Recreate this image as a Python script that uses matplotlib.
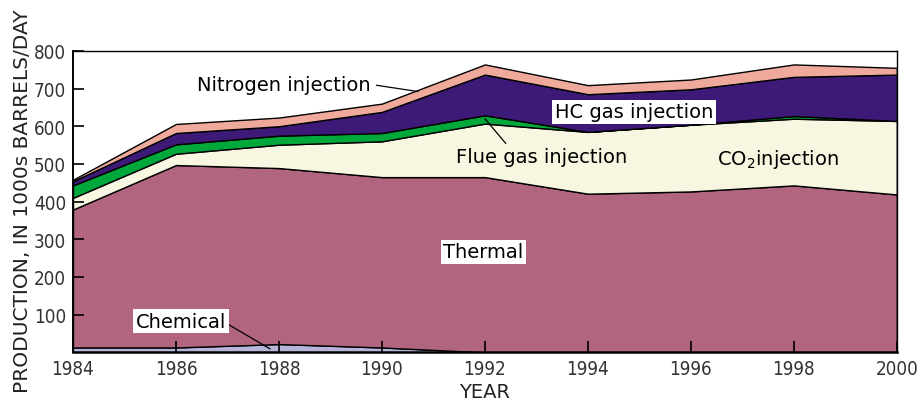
import matplotlib
matplotlib.use("Agg")
import matplotlib.pyplot as plt

years = [1984, 1986, 1988, 1990, 1992, 1994, 1996, 1998, 2000]
chemical = [13, 13, 22, 13, 0, 0, 0, 0, 0]
thermal = [366, 484, 467, 452, 465, 421, 427, 443, 419]
co2 = [31, 30, 62, 95, 142, 164, 177, 177, 195]
flue_gas = [33, 25, 24, 22, 22, 0, 0, 7, 0]
hc_gas = [11, 30, 25, 56, 108, 100, 94, 104, 123]
nitrogen = [4, 24, 23, 22, 27, 24, 26, 33, 18]

colors = ["#b7b5d9", "#b2657e", "#f7f6e0", "#00a83b", "#3e1a78", "#f0aa9c"]

fig = plt.figure(figsize=(9.17, 4.02), dpi=100)
ax = fig.add_axes([0.0796, 0.121, 0.8984, 0.750])

ax.stackplot(years, chemical, thermal, co2, flue_gas, hc_gas, nitrogen,
             colors=colors, edgecolor="black", linewidth=1.0)

ax.set_xlim(1984, 2000)
ax.set_ylim(0, 800)
ax.set_xticks(range(1984, 2001, 2))
ax.set_yticks(range(100, 801, 100))
ax.tick_params(direction="in", length=8, width=1.2, colors="black",
               labelcolor="#333333", labelsize=13.5, pad=5)
for lab in ax.get_xticklabels() + ax.get_yticklabels():
    lab.set_fontstretch("condensed")
for s in ax.spines.values():
    s.set_linewidth(1.0)
ax.spines["bottom"].set_linewidth(1.8)
ax.spines["left"].set_linewidth(1.4)

fig.text(0.024, 0.5, "PRODUCTION, IN 1000s BARRELS/DAY", fontsize=14.5,
         color="#222222", rotation=90, ha="center", va="center")
fig.text(0.528, 0.024, "YEAR", fontsize=14, color="#222222",
         ha="center", va="center")

fs = 14
box = dict(facecolor="white", edgecolor="none", pad=2)
ax.annotate("Nitrogen injection", xy=(1990.7, 692), xytext=(1988.1, 711),
            fontsize=fs, ha="center", va="center",
            arrowprops=dict(arrowstyle="-", color="black", lw=0.9,
                            shrinkA=2, shrinkB=0, relpos=(1, 0.5)))
ax.text(1994.9, 638, "HC gas injection", fontsize=fs, ha="center",
        va="center", bbox=box)
ax.annotate("Flue gas injection", xy=(1992.0, 620), xytext=(1993.1, 519),
            fontsize=fs, ha="center", va="center",
            arrowprops=dict(arrowstyle="-", color="black", lw=0.9,
                            shrinkA=1, shrinkB=0, relpos=(0.31, 1.0)))
ax.text(1996.5, 514, "CO$_2$injection", fontsize=fs, ha="left",
        va="center")
ax.text(1991.97, 267, "Thermal", fontsize=fs, ha="center", va="center",
        bbox=box)
ax.annotate("Chemical", xy=(1987.83, 9), xytext=(1986.09, 83),
            fontsize=fs, ha="center", va="center", bbox=box,
            arrowprops=dict(arrowstyle="-", color="black", lw=0.9,
                            shrinkA=0, shrinkB=0, relpos=(1, 0.4)))

fig.savefig("out.png", dpi=100)
